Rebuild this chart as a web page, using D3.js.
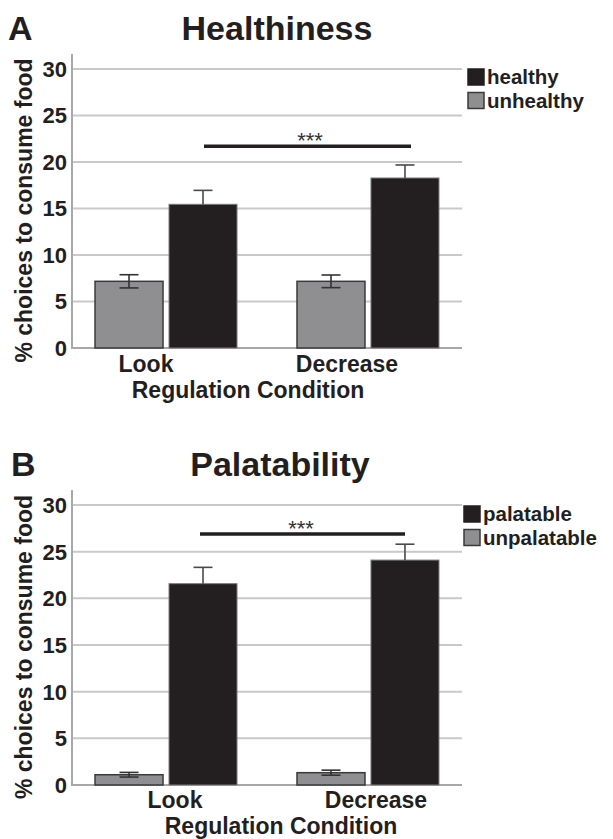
<!DOCTYPE html>
<html>
<head>
<meta charset="utf-8">
<script src="https://cdn.jsdelivr.net/npm/d3@7"></script>
<style>
  body { margin: 0; background: #fff; }
  svg { display: block; font-family: "Liberation Sans", Arial, sans-serif; }
  .tick-label { font-size: 22px; font-weight: bold; fill: #231f20; }
  .cat-label { font-size: 23px; font-weight: bold; fill: #231f20; }
  .legend-label { font-size: 20.5px; font-weight: bold; fill: #231f20; }
</style>
</head>
<body>
<div id="vis"></div>
<script>
// data
const conditions = ['Look', 'Decrease']
const yTicks = [0, 5, 10, 15, 20, 25, 30]

// panel A
const healthyMeans = [15.45, 18.28]
const healthyErr = [1.5, 1.4]
const unhealthyMeans = [7.17, 7.17]
const unhealthyErr = [0.71, 0.68]
const sigA = 21.7

// panel B
const palatableMeans = [21.57, 24.1]
const palatableErr = [1.75, 1.7]
const unpalatableMeans = [1.1, 1.32]
const unpalatableErr = [0.25, 0.27]
const sigB = 26.9

const darkFill = '#231f20', greyFill = '#8f8f91'

const svg = d3.select('#vis').append('svg')
    .attr('width', 613)
    .attr('height', 839)

function drawPanel(p){
  const g = svg.append('g')

  const y = d3.scaleLinear().domain([0, 30]).range([p.y0, p.y30])
  const x0 = d3.scaleBand().domain(conditions).range([72, 462])
      .paddingInner(0.297).paddingOuter(0.114)
  const x1 = d3.scaleBand().domain(['low', 'high']).range([0, x0.bandwidth()])
      .paddingInner(0.081)

  // gridlines
  g.selectAll('.grid').data(yTicks.filter(t => t > 0)).join('line')
    .attr('x1', 72).attr('x2', 462)
    .attr('y1', d => y(d)).attr('y2', d => y(d))
    .attr('stroke', '#c9c9c9').attr('stroke-width', 2)

  // axis lines
  g.append('line')
    .attr('x1', 72).attr('x2', 72)
    .attr('y1', y(30) - 15).attr('y2', y(0) + 1)
    .attr('stroke', '#a8a8a8').attr('stroke-width', 2)
  g.append('line')
    .attr('x1', 71).attr('x2', 462)
    .attr('y1', y(0)).attr('y2', y(0))
    .attr('stroke', '#a8a8a8').attr('stroke-width', 2)

  g.selectAll('.tick-label').data(yTicks).join('text')
    .attr('class', 'tick-label')
    .attr('x', 67).attr('y', d => y(d))
    .attr('dy', '0.36em')
    .attr('text-anchor', 'end')
    .text(d => d)

  const rows = conditions.map((c, i) => ({
    cond: c,
    bars: [
      {key: 'low', v: p.low[i], e: p.lowErr[i]},
      {key: 'high', v: p.high[i], e: p.highErr[i]}
    ]
  }))

  const groups = g.selectAll('.grp').data(rows).join('g')
    .attr('transform', d => `translate(${x0(d.cond)},0)`)

  groups.selectAll('rect').data(d => d.bars).join('rect')
    .attr('x', d => x1(d.key))
    .attr('width', x1.bandwidth())
    .attr('y', d => y(d.v))
    .attr('height', d => y(0) - y(d.v))
    .attr('fill', d => d.key == 'low' ? greyFill : darkFill)
    .attr('stroke', d => d.key == 'low' ? '#3a3a3a' : '#7a7a7a')
    .attr('stroke-width', d => d.key == 'low' ? 1.5 : 1)

  // error bars
  const eb = groups.selectAll('.err').data(d => d.bars).join('g')
    .attr('transform', d => `translate(${x1(d.key) + x1.bandwidth() / 2},0)`)
    .attr('stroke', d => d.key == 'low' ? '#333' : '#4a4a4a')
    .attr('stroke-width', 1.6)
  eb.append('line')
    .attr('y1', d => y(d.key == 'low' ? d.v - d.e : d.v))
    .attr('y2', d => y(d.v + d.e))
  eb.append('line')
    .attr('x1', -9.5).attr('x2', 9.5)
    .attr('y1', d => y(d.v + d.e)).attr('y2', d => y(d.v + d.e))
  eb.filter(d => d.key == 'low').append('line')
    .attr('x1', -9.5).attr('x2', 9.5)
    .attr('y1', d => y(d.v - d.e)).attr('y2', d => y(d.v - d.e))

  // significance bar
  g.append('line')
    .attr('x1', p.sigX[0]).attr('x2', p.sigX[1])
    .attr('y1', y(p.sig)).attr('y2', y(p.sig))
    .attr('stroke', darkFill).attr('stroke-width', 3.5)
  g.append('text')
    .attr('x', p.starX).attr('y', y(p.sig) + 2)
    .attr('text-anchor', 'middle')
    .style('font-size', '22px').attr('fill', '#333')
    .text('***')

  // category labels
  g.selectAll('.cat-label').data(conditions).join('text')
    .attr('class', 'cat-label')
    .attr('x', (d, i) => p.catX[i]).attr('y', p.catY)
    .attr('text-anchor', 'middle')
    .text(d => d)
  g.append('text').attr('class', 'cat-label')
    .attr('x', p.xTitleX).attr('y', p.catY + 26)
    .attr('text-anchor', 'middle')
    .text('Regulation Condition')

  // y label
  g.append('text').attr('class', 'cat-label')
    .attr('transform', `translate(32,${(y(0) + y(30)) / 2 + 2}) rotate(-90)`)
    .attr('text-anchor', 'middle')
    .text('% choices to consume food')

  // titles
  g.append('text')
    .attr('x', p.letterX).attr('y', p.titleY)
    .style('font-size', '34px').style('font-weight', 'bold').attr('fill', darkFill)
    .text(p.letter)
  g.append('text')
    .attr('x', p.titleX).attr('y', p.titleY)
    .attr('text-anchor', 'middle')
    .style('font-size', '34px').style('font-weight', 'bold').attr('fill', darkFill)
    .text(p.title)

  // legend
  const leg = g.selectAll('.leg').data(p.legend).join('g')
    .attr('transform', (d, i) => `translate(${p.legX},${p.legY + i * 23.5})`)
  leg.append('rect')
    .attr('width', 16).attr('height', 16)
    .attr('fill', (d, i) => i == 0 ? darkFill : greyFill)
    .attr('stroke', (d, i) => i == 0 ? darkFill : '#3a3a3a')
    .attr('stroke-width', 1.5)
  leg.append('text').attr('class', 'legend-label')
    .attr('x', 19).attr('y', 15)
    .text(d => d)
}

drawPanel({
  y0: 348, y30: 69,
  low: unhealthyMeans, lowErr: unhealthyErr,
  high: healthyMeans, highErr: healthyErr,
  sig: sigA, sigX: [204, 411], starX: 310,
  catX: [146, 347], catY: 372, xTitleX: 248,
  letter: 'A', letterX: 8, title: 'Healthiness', titleX: 277, titleY: 40,
  legend: ['healthy', 'unhealthy'], legX: 468, legY: 69
})

drawPanel({
  y0: 785, y30: 505,
  low: unpalatableMeans, lowErr: unpalatableErr,
  high: palatableMeans, highErr: palatableErr,
  sig: sigB, sigX: [200, 405], starX: 301,
  catX: [175, 376], catY: 808, xTitleX: 281,
  letter: 'B', letterX: 11, title: 'Palatability', titleX: 280, titleY: 476,
  legend: ['palatable', 'unpalatable'], legX: 464, legY: 506
})
</script>
</body>
</html>
